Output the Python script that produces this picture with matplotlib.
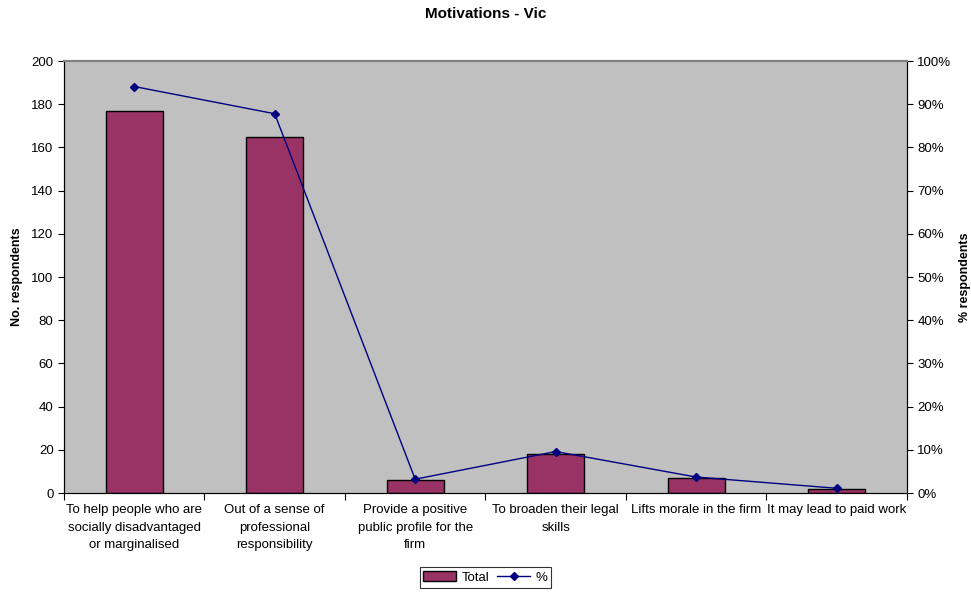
import numpy as np
import matplotlib.pyplot as plt
from matplotlib.ticker import PercentFormatter

plt.rcParams['font.family'] = ['Liberation Sans', 'DejaVu Sans']

# data
categories = [
    "To help people who are\nsocially disadvantaged\nor marginalised",
    "Out of a sense of\nprofessional\nresponsibility",
    "Provide a positive\npublic profile for the\nfirm",
    "To broaden their legal\nskills",
    "Lifts morale in the firm",
    "It may lead to paid work",
]
totals = [177, 165, 6, 18, 7, 2]
pct = [94.1, 87.8, 3.2, 9.6, 3.7, 1.1]

fig = plt.figure(figsize=(9.71, 5.92), dpi=100)
ax = fig.add_axes([0.0659, 0.1672, 0.868, 0.7297])
ax.set_facecolor("#C0C0C0")

x = np.arange(len(categories))
bars = ax.bar(x, totals, width=0.405, color="#993366", edgecolor="black",
              linewidth=1, label="Total", zorder=2)
ax.set_xlim(-0.5, len(categories) - 0.5)
ax.set_ylim(0, 200)
ax.set_yticks(np.arange(0, 201, 20))
ax.set_ylabel("No. respondents", fontsize=9, fontweight="bold", va="center")
ax.yaxis.set_label_coords(-0.0558, 0.5)

# category labels between boundary ticks
ax.set_xticks(np.arange(-0.5, len(categories) - 0.4, 1))
ax.set_xticklabels([])
ax.set_xticks(x, minor=True)
ax.set_xticklabels(categories, minor=True, fontsize=9.5, linespacing=1.6)
ax.tick_params(axis="x", which="minor", length=0, pad=8)
ax.tick_params(axis="x", which="major", length=5, direction="out")
ax.tick_params(axis="y", length=4, direction="out", labelsize=9.5)

ax.spines["top"].set_color("#808080")
ax.spines["top"].set_linewidth(1.5)

ax2 = ax.twinx()
line, = ax2.plot(x, pct, color="#000080", marker="D", markersize=4.5,
                 linewidth=1, label="%", zorder=3)
ax2.set_ylim(0, 100)
ax2.set_yticks(np.arange(0, 101, 10))
ax2.yaxis.set_major_formatter(PercentFormatter(decimals=0))
ax2.tick_params(axis="y", length=4, direction="out", labelsize=9.5)
ax2.set_ylabel("% respondents", fontsize=9, fontweight="bold",
               rotation=90, va="center")
ax2.yaxis.set_label_coords(1.0688, 0.5)
ax2.spines["top"].set_color("#808080")
ax2.spines["top"].set_linewidth(1.5)

fig.text(0.5, 0.977, "Motivations - Vic", fontsize=11, fontweight="bold",
         ha="center", va="center")

leg = fig.legend([bars, line], ["Total", "%"], loc="center",
                 bbox_to_anchor=(0.5, 0.0245), ncol=2, fontsize=9.5,
                 frameon=True, fancybox=False, edgecolor="black",
                 handlelength=2.5, columnspacing=0.6, handletextpad=0.4,
                 borderpad=0.3)
leg.get_frame().set_linewidth(0.8)

fig.savefig("out.png", dpi=100)
